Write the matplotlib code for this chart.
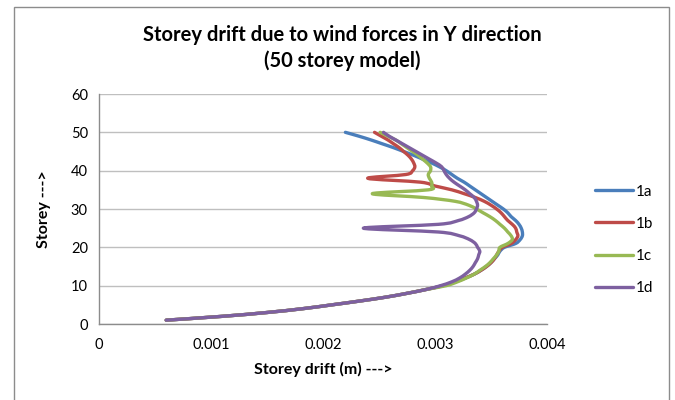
import matplotlib
matplotlib.use("Agg")
import matplotlib.pyplot as plt
from matplotlib.path import Path
from matplotlib.patches import PathPatch, Rectangle
from matplotlib.lines import Line2D
import numpy as np

plt.rcParams['font.family'] = ['Lato', 'DejaVu Sans']

storeys = list(range(1, 51))

base_low = [0.00060, 0.00110, 0.00150, 0.00182, 0.00208, 0.00233, 0.00256, 0.00275, 0.00292]

drift_1a = base_low + [
    0.00307, 0.00318, 0.00327, 0.00335, 0.00341, 0.00346, 0.00350, 0.00353, 0.00356, 0.00358,
    0.00362, 0.00372, 0.00376, 0.00378, 0.00378, 0.00377, 0.00375, 0.00372, 0.00368, 0.00365,
    0.00361, 0.00356, 0.00351, 0.00346, 0.00341, 0.00336, 0.00331, 0.00326, 0.00320, 0.00315,
    0.00310, 0.00304, 0.00297, 0.00289, 0.00281, 0.00272, 0.00263, 0.00253, 0.00243, 0.00232,
    0.00220]

drift_1b = base_low + [
    0.00307, 0.00318, 0.00327, 0.00335, 0.00341, 0.00346, 0.00350, 0.00353, 0.00355, 0.00357,
    0.00360, 0.00368, 0.00372, 0.00374, 0.00373, 0.00372, 0.00369, 0.00365, 0.00362, 0.00359,
    0.00355, 0.00350, 0.00344, 0.00336, 0.00326, 0.00315, 0.00300, 0.00287, 0.00240, 0.00274,
    0.00280, 0.00282, 0.00281, 0.00279, 0.00276, 0.00272, 0.00268, 0.00263, 0.00258, 0.00252,
    0.00246]

drift_1c = base_low + [
    0.00310, 0.00320, 0.00328, 0.00335, 0.00340, 0.00345, 0.00349, 0.00352, 0.00355, 0.00357,
    0.00358, 0.00365, 0.00369, 0.00368, 0.00365, 0.00362, 0.00358, 0.00354, 0.00349, 0.00343,
    0.00337, 0.00330, 0.00318, 0.00290, 0.00244, 0.00294, 0.00297, 0.00297, 0.00295, 0.00294,
    0.00296, 0.00296, 0.00293, 0.00289, 0.00285, 0.00280, 0.00275, 0.00270, 0.00265, 0.00258,
    0.00251]

drift_1d = base_low + [
    0.00305, 0.00315, 0.00322, 0.00327, 0.00331, 0.00334, 0.00336, 0.00338, 0.00339, 0.00340,
    0.00338, 0.00336, 0.00331, 0.00322, 0.00303, 0.00236, 0.00303, 0.00321, 0.00330, 0.00335,
    0.00337, 0.00338, 0.00337, 0.00335, 0.00331, 0.00327, 0.00322, 0.00317, 0.00313, 0.00310,
    0.00308, 0.00306, 0.00301, 0.00295, 0.00289, 0.00283, 0.00277, 0.00271, 0.00265, 0.00259,
    0.00254]

series_names = ['1a', '1b', '1c', '1d']
series_values = [drift_1a, drift_1b, drift_1c, drift_1d]
colors = ['#4a7ebb', '#be4b48', '#98b954', '#7d60a0']

x_ticks = [0, 0.001, 0.002, 0.003, 0.004]
x_tick_labels = ['0', '0.001', '0.002', '0.003', '0.004']
y_ticks = [0, 10, 20, 30, 40, 50, 60]


def smooth_path(xs, ys):
    pts = np.column_stack([xs, ys]).astype(float)
    n = len(pts)
    verts = [pts[0]]
    codes = [Path.MOVETO]
    for i in range(n - 1):
        p0 = pts[i - 1] if i > 0 else pts[i]
        p1 = pts[i]
        p2 = pts[i + 1]
        p3 = pts[i + 2] if i + 2 < n else pts[i + 1]
        c1 = p1 + (p2 - p0) / 6.0
        c2 = p2 - (p3 - p1) / 6.0
        verts += [c1, c2, p2]
        codes += [Path.CURVE4] * 3
    return Path(verts, codes)


fig = plt.figure(figsize=(6.75, 4.0), dpi=100)
fig.patches.append(Rectangle((14 / 675, -0.05), (669 - 14) / 675, (400 - 7) / 400 + 0.05,
                             transform=fig.transFigure, fill=False,
                             edgecolor='#8c8c8c', linewidth=1.0))

ax = fig.add_axes([99 / 675, 76 / 400, 448 / 675, 230 / 400])
ax.set_xlim(0, 0.004)
ax.set_ylim(0, 60)

handles = []
for name, vals, col in zip(series_names, series_values, colors):
    p = smooth_path(vals, storeys)
    patch = PathPatch(p, facecolor='none', edgecolor=col, linewidth=2.4,
                      capstyle='round', joinstyle='round', transform=ax.transData,
                      zorder=3)
    ax.add_patch(patch)
    handles.append(Line2D([0], [0], color=col, linewidth=2.4, solid_capstyle='round'))

ax.set_xticks(x_ticks)
ax.set_xticklabels(x_tick_labels)
ax.set_yticks(y_ticks)
ax.grid(axis='y', color='#bfbfbf', linewidth=1.0)
ax.set_axisbelow(True)
for side in ['top', 'right']:
    ax.spines[side].set_visible(False)
for side in ['left', 'bottom']:
    ax.spines[side].set_color('#8c8c8c')
    ax.spines[side].set_linewidth(1.0)
ax.tick_params(axis='both', length=0, labelsize=10.5, colors='#000000', pad=8)
ax.tick_params(axis='x', pad=10)

ax.set_xlabel('Storey drift (m) --->', fontsize=11.5, fontweight='bold', labelpad=7)
ax.set_ylabel('Storey --->', fontsize=11.5, fontweight='bold', labelpad=14)

fig.text(342 / 675, 1 - 48 / 400,
         'Storey drift due to wind forces in Y direction\n(50 storey model)',
         ha='center', va='center', fontsize=14.5, fontweight='bold', linespacing=1.3)

leg = fig.legend(handles, series_names, loc='center left',
                 bbox_to_anchor=(581 / 675, 1 - 240 / 400), frameon=False,
                 fontsize=11, handlelength=2.5, handletextpad=0.2, labelspacing=1.2)

fig.savefig('out.png', dpi=100)
